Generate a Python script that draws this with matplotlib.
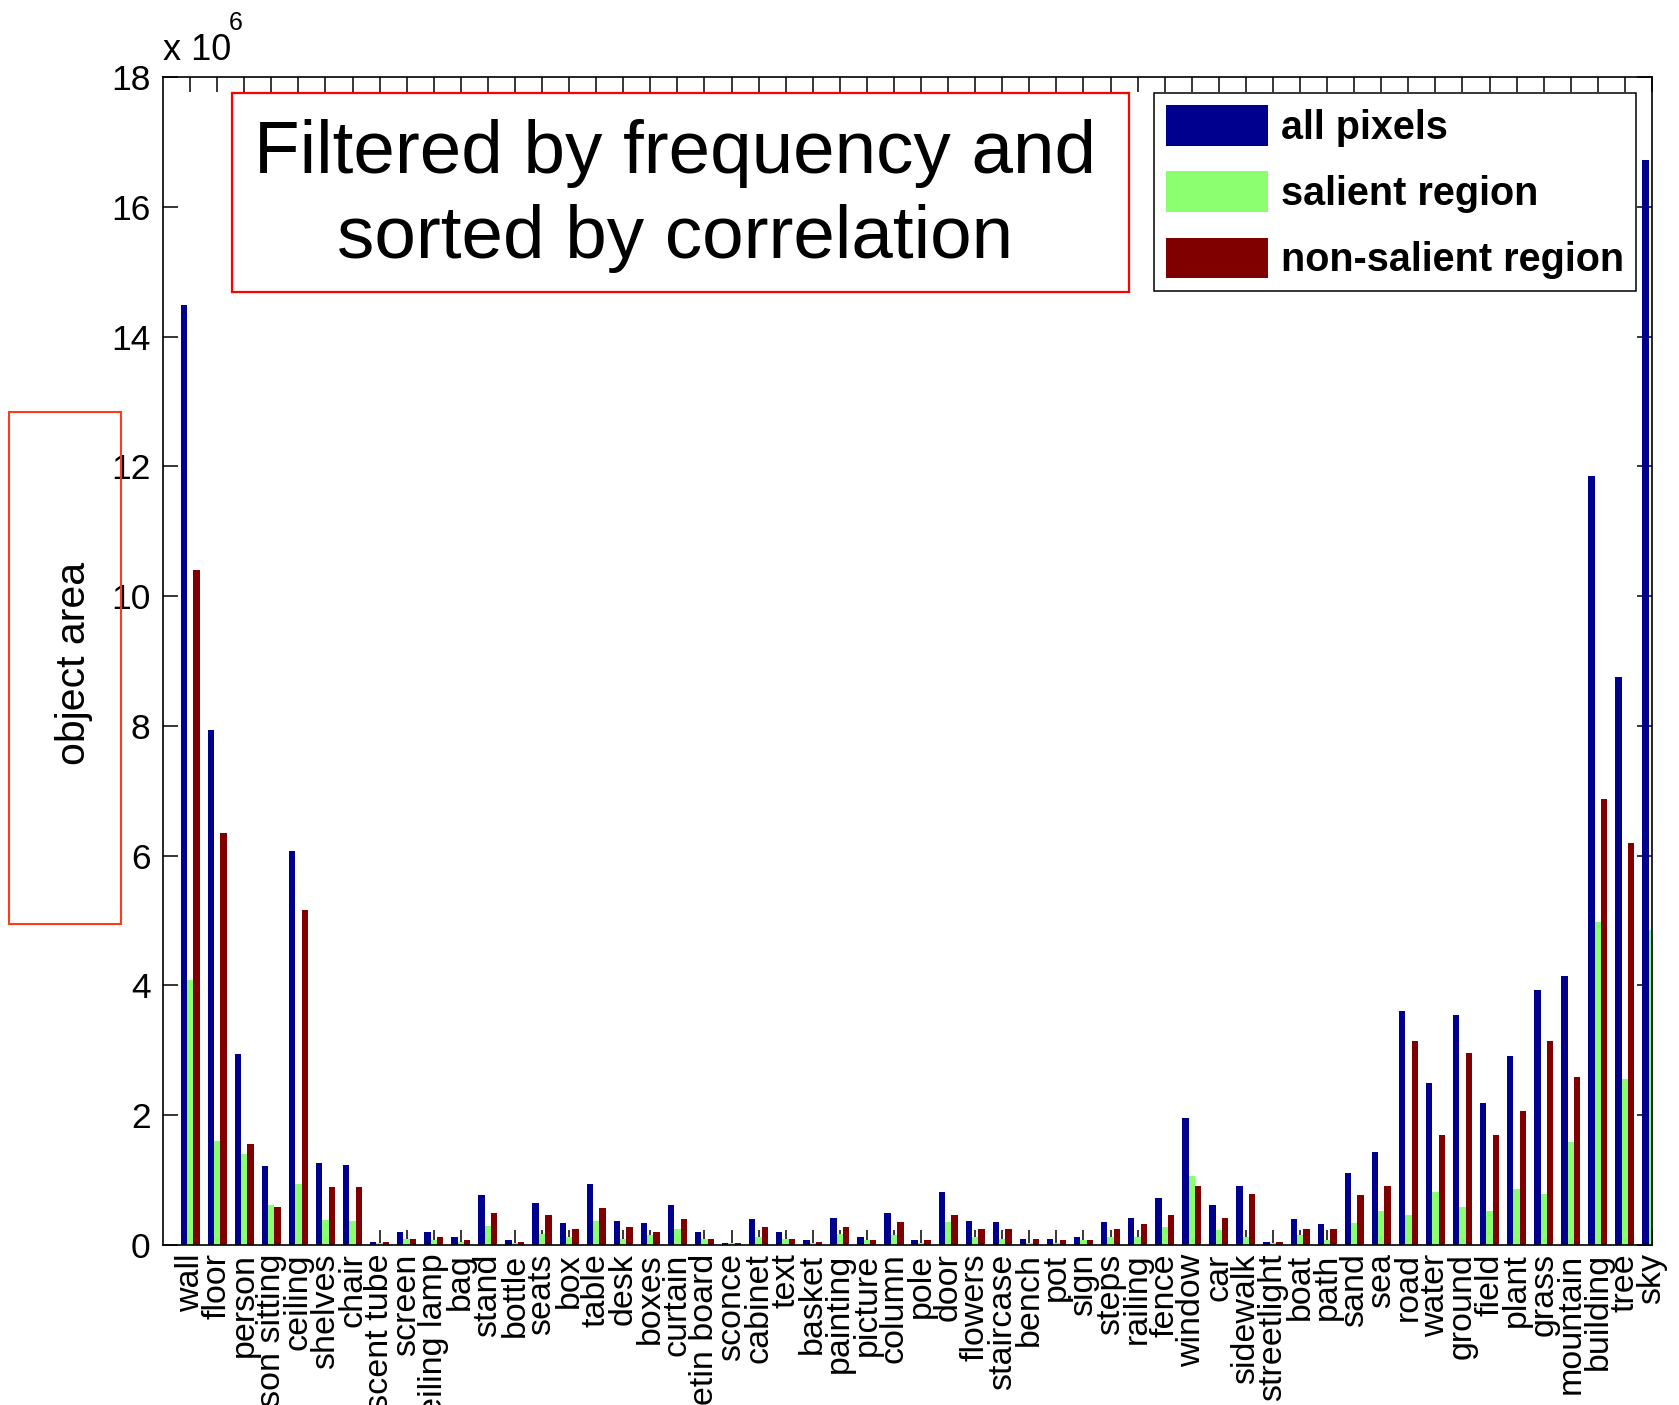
import numpy as np
import matplotlib
matplotlib.use("Agg")
import matplotlib.pyplot as plt
from matplotlib.patches import Rectangle

plt.rcParams["font.family"] = ["Liberation Sans", "DejaVu Sans"]

categories = [
    "wall", "floor", "person", "person sitting", "ceiling", "shelves", "chair",
    "fluorescent tube", "screen", "ceiling lamp", "bag", "stand", "bottle", "seats",
    "box", "table", "desk", "boxes", "curtain", "bulletin board", "sconce", "cabinet",
    "text", "basket", "painting", "picture", "column", "pole", "door", "flowers",
    "staircase", "bench", "pot", "sign", "steps", "railing", "fence", "window", "car",
    "sidewalk", "streetlight", "boat", "path", "sand", "sea", "road", "water", "ground",
    "field", "plant", "grass", "mountain", "building", "tree", "sky",
]

# object area in units of 1e6 pixels
all_pixels = [
    14.48, 7.94, 2.95, 1.21, 6.07, 1.26, 1.24, 0.05, 0.20, 0.20, 0.13, 0.77, 0.08, 0.64,
    0.34, 0.94, 0.37, 0.34, 0.62, 0.20, 0.03, 0.40, 0.20, 0.08, 0.42, 0.13, 0.50, 0.08,
    0.82, 0.37, 0.35, 0.10, 0.10, 0.13, 0.35, 0.42, 0.72, 1.95, 0.62, 0.91, 0.05, 0.40,
    0.32, 1.11, 1.43, 3.60, 2.49, 3.55, 2.19, 2.91, 3.93, 4.15, 11.85, 8.75, 16.72,
]
salient_region = [
    4.08, 1.60, 1.41, 0.61, 0.94, 0.39, 0.37, 0.03, 0.10, 0.08, 0.05, 0.30, 0.03, 0.17,
    0.13, 0.37, 0.10, 0.15, 0.25, 0.10, 0.03, 0.12, 0.10, 0.03, 0.17, 0.08, 0.15, 0.03,
    0.35, 0.13, 0.10, 0.03, 0.03, 0.08, 0.13, 0.12, 0.27, 1.06, 0.23, 0.12, 0.03, 0.15,
    0.08, 0.34, 0.52, 0.47, 0.82, 0.59, 0.52, 0.87, 0.79, 1.58, 4.98, 2.56, 4.85,
]
non_salient_region = [
    10.40, 6.35, 1.56, 0.59, 5.16, 0.89, 0.89, 0.05, 0.10, 0.13, 0.08, 0.50, 0.05, 0.47,
    0.25, 0.57, 0.28, 0.20, 0.40, 0.10, 0.03, 0.27, 0.10, 0.05, 0.27, 0.08, 0.35, 0.08,
    0.47, 0.25, 0.25, 0.10, 0.08, 0.08, 0.25, 0.32, 0.47, 0.91, 0.42, 0.79, 0.05, 0.25,
    0.25, 0.77, 0.91, 3.15, 1.70, 2.96, 1.70, 2.07, 3.15, 2.59, 6.88, 6.19, 11.87,
]
series_names = ["all pixels", "salient region", "non-salient region"]
series_colors = ["#00008F", "#8CFF70", "#800000"]
y_ticks = [0, 2, 4, 6, 8, 10, 12, 14, 16, 18]

W, H, DPI = 1679, 1405, 100
fig = plt.figure(figsize=(W / DPI, H / DPI), dpi=DPI)

def fx(px):
    return px / W

def fy(py):
    return 1 - py / H

ax_l, ax_r, ax_t, ax_b = 163, 1652, 77, 1245
ax = fig.add_axes([fx(ax_l), fy(ax_b), fx(ax_r - ax_l), fy(ax_t) - fy(ax_b)])

x = np.arange(1, len(categories) + 1)
bw = 0.235
scale = 1e6
for k, (vals, name, col) in enumerate(zip(
        [all_pixels, salient_region, non_salient_region], series_names, series_colors)):
    ax.bar(x + (k - 1) * bw, np.array(vals) * scale, width=bw, color=col,
           edgecolor="none", label=name, zorder=2)

ax.set_xlim(0, len(categories))
ax.set_ylim(0, 18 * scale)
ax.set_axisbelow(True)

ax.set_yticks([v * scale for v in y_ticks])
ax.set_yticklabels([str(v) for v in y_ticks], fontsize=25.5)
ax.set_xticks(x)
ax.set_xticklabels(categories, rotation=90, fontsize=24.5, va="top", ha="center")

tick_len = 15 * 72 / DPI
ax.tick_params(axis="both", direction="in", length=tick_len, width=1.1,
               top=True, right=True, colors="black")
ax.tick_params(axis="y", pad=9)
ax.tick_params(axis="x", pad=6)
for sp in ax.spines.values():
    sp.set_linewidth(1.2)
    sp.set_zorder(3)

# axis multiplier
fig.text(fx(163), fy(60), "x 10", fontsize=26, ha="left", va="baseline")
fig.text(fx(229), fy(30), "6", fontsize=18, ha="left", va="baseline")

# y label inside a highlight box
fig.text(fx(74), fy(663), "object area", fontsize=29.5, rotation=90,
         ha="center", va="center")
fig.add_artist(Rectangle((fx(9), fy(924)), fx(121 - 9), fy(412) - fy(924),
                         transform=fig.transFigure, fill=False,
                         edgecolor="#FF3A1A", linewidth=1.5))

# annotation box
fig.add_artist(Rectangle((fx(232), fy(292)), fx(1129 - 232), fy(93) - fy(292),
                         transform=fig.transFigure, fill=False,
                         edgecolor="#FF0000", linewidth=1.6))
fig.text(fx(675), fy(196), "Filtered by frequency and\nsorted by correlation",
         fontsize=53.7, ha="center", va="center", multialignment="center",
         linespacing=1.3)

fs_leg = 28.5
fs_px = fs_leg * DPI / 72
leg = ax.legend(loc="upper right", bbox_to_anchor=(fx(1636), fy(93)),
                bbox_transform=fig.transFigure, borderaxespad=0,
                prop={"size": fs_leg, "weight": "bold"},
                handlelength=102 / fs_px, handleheight=48 / fs_px,
                handletextpad=13 / fs_px, labelspacing=0.62, borderpad=0.3,
                fancybox=False, framealpha=1, edgecolor="black")
leg.get_frame().set_linewidth(1.1)

fig.savefig("out.png", dpi=DPI)
